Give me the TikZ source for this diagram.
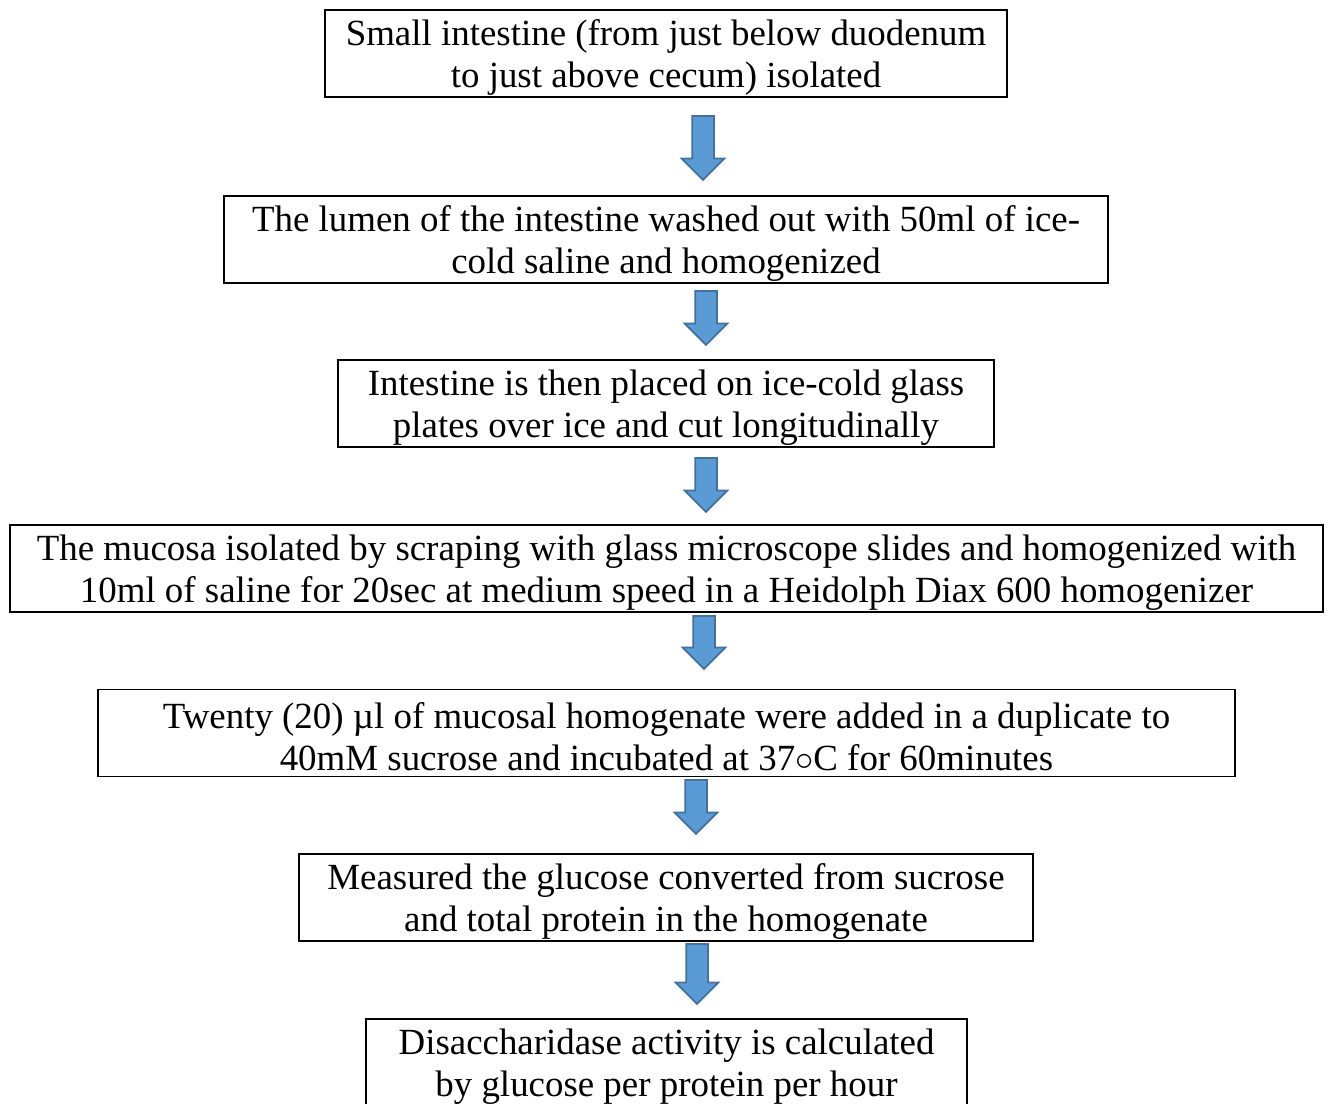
\documentclass[tikz,border=0pt]{standalone}
\usepackage{fontspec}
\setmainfont{Liberation Serif}
\usetikzlibrary{shapes.arrows}
\definecolor{arrowfill}{HTML}{5B9BD5}
\definecolor{arrowline}{HTML}{41719C}
\newcommand{\topstrut}{\rule{0pt}{19pt}}
\tikzset{
  stepbox/.style={draw, line width=1.1pt, align=center, inner sep=0pt,
    minimum height=1.74cm, font=\fontsize{21}{23.8}\selectfont},
  downarrow/.style={single arrow, draw=arrowline, fill=arrowfill, line width=1pt,
    rotate=-90, anchor=tail, minimum width=0.82cm, single arrow head extend=0.21cm,
    inner xsep=0pt, inner ysep=0.2cm}
}
\begin{document}
\begin{tikzpicture}[x=0.02cm,y=0.02cm]
    \useasboundingbox (0,0) rectangle (1331,-1103);

    % Steps
    \node[stepbox, minimum width=13.64cm] (isolate) at (666,-53.5)
        {\topstrut Small intestine (from just below duodenum\\to just above cecum) isolated};
    \node[stepbox, minimum width=17.68cm] (wash) at (666,-239.5)
        {\topstrut The lumen of the intestine washed out with 50ml of ice-\\cold saline and homogenized};
    \node[stepbox, minimum width=13.12cm] (cut) at (666,-403.5)
        {\topstrut Intestine is then placed on ice-cold glass\\plates over ice and cut longitudinally};
    \node[stepbox, minimum width=26.26cm] (scrape) at (666.5,-568.5)
        {\topstrut The mucosa isolated by scraping with glass microscope slides and homogenized with\\10ml of saline for 20sec at medium speed in a Heidolph Diax 600 homogenizer};
    \node[stepbox, minimum width=22.74cm] (incubate) at (666.5,-733)
        {\topstrut Twenty (20) µl of mucosal homogenate were added in a duplicate to\\40mM sucrose and incubated at 37$\circ$C for 60minutes};
    \node[stepbox, minimum width=14.68cm] (measure) at (666,-897.5)
        {\topstrut Measured the glucose converted from sucrose\\and total protein in the homogenate};
    \node[stepbox, minimum width=12.02cm] (activity) at (666.5,-1062.5)
        {\topstrut Disaccharidase activity is calculated\\by glucose per protein per hour};

    % Block arrows
    \node[downarrow, minimum height=1.28cm] (a1) at (703,-115) {};
    \node[downarrow, minimum height=1.08cm] (a2) at (706,-290) {};
    \node[downarrow, minimum height=1.08cm] (a3) at (706,-457) {};
    \node[downarrow, minimum height=1.06cm] (a4) at (704,-615) {};
    \node[downarrow, minimum height=1.08cm] (a5) at (696,-779) {};
    \node[downarrow, minimum height=1.2cm] (a6) at (697,-943) {};
\end{tikzpicture}
\end{document}
